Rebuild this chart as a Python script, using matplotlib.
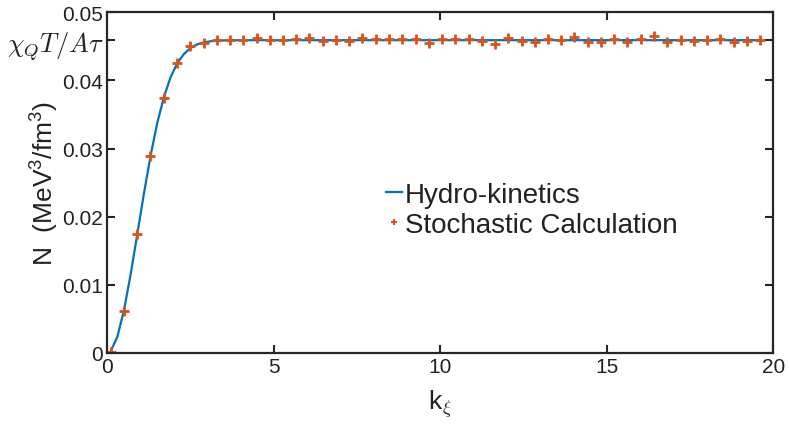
import numpy as np
import matplotlib
matplotlib.use("Agg")
import matplotlib.pyplot as plt

# stochastic calculation points
k_pts = [0.1, 0.5, 0.9, 1.29, 1.69, 2.09, 2.49, 2.89, 3.28, 3.68,
         4.08, 4.48, 4.88, 5.27, 5.67, 6.07, 6.47, 6.87, 7.26, 7.66,
         8.06, 8.46, 8.86, 9.26, 9.65, 10.05, 10.45, 10.85, 11.24, 11.64,
         12.04, 12.44, 12.84, 13.24, 13.63, 14.03, 14.43, 14.83, 15.23, 15.62,
         16.02, 16.42, 16.82, 17.22, 17.61, 18.01, 18.41, 18.81, 19.2, 19.6]
N_pts = [0.0001, 0.0062, 0.0174, 0.0289, 0.0374, 0.0425, 0.0450, 0.0455, 0.0459, 0.0459,
         0.0459, 0.04624, 0.0459, 0.0459, 0.04605, 0.04624, 0.0458, 0.0459, 0.0458, 0.04629,
         0.0460, 0.04605, 0.0460, 0.04605, 0.04551, 0.0460, 0.04614, 0.0460, 0.04575, 0.04531,
         0.04624, 0.0458, 0.0457, 0.0460, 0.0459, 0.04639, 0.0457, 0.04561, 0.04605, 0.04566,
         0.0460, 0.04653, 0.04566, 0.0459, 0.04575, 0.0459, 0.04614, 0.04566, 0.04575, 0.0459]

# hydro-kinetics curve
k_line = [0.1, 0.3, 0.5, 0.7, 0.9, 1.1, 1.3, 1.5, 1.7, 1.9, 2.1, 2.3, 2.5,
          2.7, 2.9, 3.1, 3.3, 3.5, 4.0, 5.0, 10.0, 15.0, 19.6]
N_line = [0.00027, 0.00238, 0.00631, 0.01157, 0.01749, 0.02346, 0.02902, 0.03379,
          0.03759, 0.04049, 0.04251, 0.04388, 0.04476, 0.04528, 0.04558, 0.04574,
          0.04583, 0.04587, 0.0459, 0.0459, 0.0459, 0.0459, 0.0459]

plateau = 0.0459
yticks = [0, 0.01, 0.02, 0.03, 0.04, plateau, 0.05]
ytick_labels = ["0", "0.01", "0.02", "0.03", "0.04", r"$\chi_Q T/A\tau$", "0.05"]
xticks = [0, 5, 10, 15, 20]

plt.rcParams['font.family'] = ['Liberation Sans', 'DejaVu Sans']
plt.rcParams['mathtext.fontset'] = 'custom'
plt.rcParams['mathtext.rm'] = 'Liberation Sans'
plt.rcParams['mathtext.it'] = 'Liberation Sans:italic'

fig = plt.figure(figsize=(7.89, 4.27), dpi=100)
ax = fig.add_axes([0.1361, 0.171, 0.8439, 0.798])

blue = '#0072BD'
orange = '#D95319'
dark = '#262626'
txt = '#222222'

ax.plot(k_line, N_line, color=blue, lw=1.6, label='Hydro-kinetics')
ax.plot(k_pts, N_pts, '+', color=orange, ms=7, mew=2, label='Stochastic Calculation')

ax.set_xlim(0, 20)
ax.set_ylim(0, 0.05)
ax.set_xticks(xticks)
ax.set_xticklabels([str(t) for t in xticks])
ax.set_yticks(yticks)
ax.set_yticklabels(ytick_labels)

ax.tick_params(direction='in', length=6, width=1.5, colors=dark,
               labelsize=15, top=True, right=True, pad=3)
ax.tick_params(labelcolor=txt)
for lbl in ax.get_yticklabels():
    if lbl.get_text().startswith('$'):
        lbl.set_fontsize(19)
        lbl.set_math_fontfamily('cm')
for s in ax.spines.values():
    s.set_linewidth(1.6)
    s.set_color(dark)

xl = ax.set_xlabel(r'k$_\xi$', fontsize=19, color=txt)
xl.set_math_fontfamily('cm')
ax.set_ylabel(r'N  (MeV$^3$/fm$^3$)', fontsize=19, color=txt)
ax.xaxis.set_label_coords(0.5, -0.10)
ax.yaxis.set_label_coords(-0.07, 0.5)

leg = ax.legend(loc='upper left', bbox_to_anchor=(0.418, 0.502), frameon=False,
                fontsize=20, handlelength=0.6, handletextpad=0.1,
                borderpad=0, borderaxespad=0, labelspacing=0.15)
for t in leg.get_texts():
    t.set_color(txt)
mk = leg.legend_handles[1]
mk.set_markersize(5)
mk.set_markeredgewidth(1.5)

fig.savefig('out.png', dpi=100)
